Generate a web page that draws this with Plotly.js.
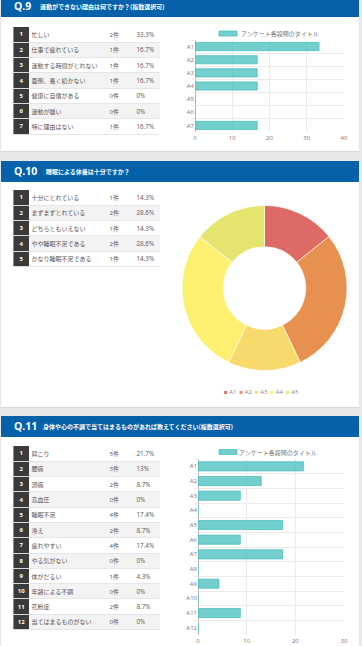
<!DOCTYPE html>
<html><head><meta charset="utf-8">
<script src="https://cdn.plot.ly/plotly-3.0.1.min.js"></script>
<style>
html,body{margin:0;padding:0;}
body{background:#e9e9e9;width:362px;height:646px;overflow:hidden;position:relative;font-family:"Noto Sans CJK JP",sans-serif;}
.card{position:absolute;left:1px;width:358px;background:#fff;box-shadow:0 1px 1px rgba(0,0,0,0.08);}
.hdr{position:absolute;left:0;top:0;width:358px;height:21px;background:#0562aa;color:#fff;}
.q{position:absolute;left:13px;top:2px;font-family:"Open Sans",sans-serif;font-weight:bold;font-size:10.5px;line-height:17px;}
.st{position:absolute;top:3px;font-weight:bold;font-size:6px;line-height:15px;white-space:nowrap;}
table{position:absolute;left:13px;border-collapse:collapse;font-size:6px;color:#555;table-layout:fixed;}
td{padding:0;height:15.3px;border-bottom:1px solid #e6e6e6;white-space:nowrap;overflow:hidden;box-sizing:border-box;}
tr:nth-child(even) td{background:#f3f3f3;}
td.n{width:15px;background:#3a3a3a !important;color:#fff;font-weight:bold;text-align:center;border-left:1px solid #8a8a8a;border-bottom:1px solid #d8d8d8;font-family:"Open Sans",sans-serif;font-size:6px;}
td.l{width:78px;padding-left:3px;}
td.c{width:27px;padding-left:3px;font-family:"Open Sans","Noto Sans CJK JP",sans-serif;}
td.p{width:26px;padding-left:3px;font-family:"Open Sans",sans-serif;font-size:6.3px;}
.chart{position:absolute;}
</style>
</head><body>
<div class="card" id="card1" style="top:-4px;height:155px;">
  <div class="hdr"><div class="q">Q.9</div><div class="st" style="left:39px;">運動ができない理由は何ですか？(複数選択可)</div></div>
</div>
<div class="card" id="card2" style="top:161px;height:246px;">
  <div class="hdr"><div class="q">Q.10</div><div class="st" style="left:45px;">睡眠による休養は十分ですか？</div></div>
</div>
<div class="card" id="card3" style="top:416px;height:240px;">
  <div class="hdr"><div class="q">Q.11</div><div class="st" style="left:42px;">身体や心の不調で当てはまるものがあれば教えてください(複数選択可)</div></div>
</div>
<table id="t1" style="top:27px;"></table>
<table id="t2" style="top:190px;"></table>
<table id="t3" style="top:446px;"></table>
<div class="chart" id="c1" style="left:170px;top:20px;width:185px;height:125px;"></div>
<div class="chart" id="c2" style="left:178px;top:200px;width:172px;height:204px;"></div>
<div class="chart" id="c3" style="left:170px;top:440px;width:185px;height:206px;"></div>
<script>
// ---- Data ----
const q9Labels = ['忙しい','仕事で疲れている','運動する時間がとれない','面倒、長く続かない','健康に自信がある','運動が嫌い','特に理由はない'];
const q9Counts = [2,1,1,1,0,0,1];
const q9Pct = [33.3,16.7,16.7,16.7,0,0,16.7];
const q9Cats = ['A1','A2','A3','A4','A5','A6','A7'];

const q10Labels = ['十分にとれている','まずまずとれている','どちらともいえない','やや睡眠不足である','かなり睡眠不足である'];
const q10Counts = [1,2,1,2,1];
const q10Pct = [14.3,28.6,14.3,28.6,14.3];
const q10Cats = ['A1','A2','A3','A4','A5'];
const q10Colors = ['#dd6a65','#e6914f','#f8d96b','#fdef6f','#e4e46f'];

const q11Labels = ['肩こり','腰痛','頭痛','高血圧','睡眠不足','冷え','疲れやすい','やる気がない','体がだるい','年齢による不調','花粉症','当てはまるものがない'];
const q11Counts = [5,3,2,0,4,2,4,0,1,0,2,0];
const q11Pct = [21.7,13,8.7,0,17.4,8.7,17.4,0,4.3,0,8.7,0];
const q11Cats = ['A1','A2','A3','A4','A5','A6','A7','A8','A9','A10','A11','A12'];

const legendTitle = 'アンケート各設問のタイトル';
const unit = '件';

// ---- Tables ----
function buildTable(id, labels, counts, pcts){
  const t = document.getElementById(id);
  let h = '';
  labels.forEach((l,i)=>{
    h += '<tr><td class="n">'+(i+1)+'</td><td class="l">'+l+'</td><td class="c">'+counts[i]+unit+'</td><td class="p">'+pcts[i]+'%</td></tr>';
  });
  t.innerHTML = h;
}
buildTable('t1', q9Labels, q9Counts, q9Pct);
buildTable('t2', q10Labels, q10Counts, q10Pct);
buildTable('t3', q11Labels, q11Counts, q11Pct);

// ---- Charts ----
const tickFont = {family:'Open Sans, sans-serif', size:6, color:'#777'};
const barFill = 'rgba(75,192,192,0.78)';
const barLine = 'rgba(75,192,192,1)';
const cfg = {staticPlot:true, displayModeBar:false};

function barChart(id, cats, vals, xmax, dtick, m, plotW, swatchX, textX){
  const trace = {type:'bar', orientation:'h', y:cats, x:vals,
    marker:{color:barFill, line:{color:barLine, width:0.8}}, width:0.62, showlegend:false, hoverinfo:'none'};
  const layout = {
    width: plotW.w, height: plotW.h,
    margin:m, paper_bgcolor:'rgba(0,0,0,0)', plot_bgcolor:'rgba(0,0,0,0)',
    xaxis:{range:[0,xmax], dtick:dtick, tick0:0, showgrid:true, gridcolor:'#ebebeb', gridwidth:1,
      zeroline:true, zerolinecolor:'#bdbdbd', zerolinewidth:1, showline:false,
      tickfont:tickFont, ticks:'', ticklabelstandoff:1, fixedrange:true},
    yaxis:{type:'category', autorange:'reversed', tickson:'boundaries', showgrid:true, gridcolor:'#ebebeb',
      ticks:'outside', ticklen:3, tickcolor:'#ebebeb', tickfont:tickFont, showline:false, zeroline:false, fixedrange:true},
    shapes:[{type:'rect', xref:'paper', yref:'paper', xsizemode:'pixel', ysizemode:'pixel',
      xanchor:swatchX, yanchor:1, x0:0, x1:18, y0:m.legY-2.5, y1:m.legY+2.5,
      fillcolor:barFill, line:{color:barLine, width:0.8}}],
    annotations:[{xref:'paper', yref:'paper', x:textX, y:1, yshift:m.legY, xanchor:'left', yanchor:'middle',
      showarrow:false, text:legendTitle, font:{family:'Noto Sans CJK JP, sans-serif', size:6, color:'#777'}}]
  };
  return Plotly.newPlot(id, [trace], layout, cfg);
}
barChart('c1', q9Cats, q9Pct, 40, 10, {l:25, r:11, t:20, b:13, legY:6.5}, {w:185, h:125}, 0.161, 0.295);
barChart('c3', q11Cats, q11Pct, 30, 10, {l:28, r:11, t:19, b:11, legY:7}, {w:185, h:206}, 0.144, 0.27);

// Doughnut
const legText = q10Cats.map((c,i)=>'<span style="color:'+q10Colors[i]+'">■</span> '+c).join('  ');
Plotly.newPlot('c2', [{type:'pie', labels:q10Cats, values:q10Counts, hole:0.5, sort:false, direction:'clockwise',
  rotation:0, textinfo:'none', hoverinfo:'none', showlegend:false,
  marker:{colors:q10Colors, line:{color:'#ffffff', width:0.6}}}],
  {width:172, height:204, margin:{l:4, r:3, t:5, b:33}, paper_bgcolor:'rgba(0,0,0,0)',
   annotations:[{xref:'paper', yref:'paper', x:0.48, y:-0.1265, xanchor:'center', yanchor:'middle', showarrow:false,
     text:legText, font:{family:'Open Sans, sans-serif', size:6, color:'#888'}}]}, cfg);
</script>
</body></html>
